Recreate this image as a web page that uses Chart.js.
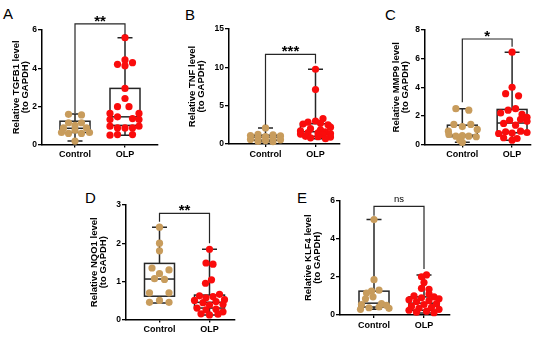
<!DOCTYPE html>
<html><head><meta charset="utf-8">
<script src="https://cdn.jsdelivr.net/npm/chart.js@4"></script>
<style>
html,body{margin:0;padding:0;background:#fff;width:550px;height:339px;overflow:hidden;position:relative;font-family:"Liberation Sans",Arial,sans-serif}
canvas{position:absolute}
.lbl{position:absolute;font-size:15px;line-height:15px;color:#000;font-family:"Liberation Sans",Arial,sans-serif}
</style></head><body>
<div class="lbl" style="left:3px;top:6px">A</div>
<div class="lbl" style="left:185px;top:7px">B</div>
<div class="lbl" style="left:385px;top:7px">C</div>
<div class="lbl" style="left:85px;top:190px">D</div>
<div class="lbl" style="left:297px;top:190px">E</div>
<canvas id="cA" width="165" height="170" style="left:0px;top:0px"></canvas>
<canvas id="cB" width="175" height="170" style="left:180px;top:0px"></canvas>
<canvas id="cC" width="175" height="170" style="left:375px;top:0px"></canvas>
<canvas id="cD" width="175" height="169" style="left:75px;top:170px"></canvas>
<canvas id="cE" width="175" height="169" style="left:285px;top:170px"></canvas>
<script>
const groups = ['Control', 'OLP'];

// Panel A: TGFB1
const tgfb1Control = [1.58, 1.55, 1.14, 1.14, 1.01, 0.87, 0.87, 0.75, 0.63, 0.58, 0.58, 0.63, 0.18];
const tgfb1ControlJitter = [-0.13, 0.13, -0.13, 0.13, 0, -0.23, 0.23, 0, -0.27, -0.13, 0.13, 0.29, 0];
const tgfb1OLP = [5.6, 4.43, 4.29, 4.2, 4.13, 2.94, 2.41, 1.98, 1.98, 1.63, 1.63, 1.45, 1.36, 1.31, 1.31, 0.96, 0.96, 0.87, 0.87, 0.87, 0.52, 0.52, 0.49];
const tgfb1OLPJitter = [0, 0, 0.15, -0.15, 0, 0, 0, -0.15, 0.08, -0.3, 0.28, -0.15, 0.15, -0.3, 0.28, -0.3, 0.28, -0.15, 0, 0.15, -0.15, 0.15, -0.3];
const tgfb1Box = [[0.18, 0.63, 0.85, 1.22, 1.6], [0.49, 1.0, 1.45, 2.94, 5.6]];
const tgfb1Sig = [6.32, 1.65, 5.75, '**'];

// Panel B: TNF
const tnfControl = [2.1, 1.25, 1.2, 1.1, 1.05, 0.95, 0.8, 0.75, 0.6, 0.55, 0.45, 0.35, 0.3];
const tnfControlJitter = [0, -0.15, 0.15, -0.3, 0.3, 0, -0.15, 0.15, -0.3, 0.3, 0, -0.15, 0.15];
const tnfOLP = [9.75, 7.1, 3.3, 3.0, 2.85, 2.7, 2.6, 2.5, 2.2, 2.0, 1.85, 1.7, 1.6, 1.5, 1.45, 1.35, 1.3, 1.2, 1.0, 0.95, 0.9, 0.8, 0.7];
const tnfOLPJitter = [0, 0, 0.15, 0, -0.15, 0.1, -0.25, 0.25, 0.3, -0.1, 0.1, -0.3, 0.2, -0.15, 0.05, 0.3, -0.3, 0.15, -0.2, 0.05, 0.3, -0.1, 0.2];
const tnfBox = [[0.3, 0.5, 0.9, 1.15, 2.1], [0.7, 1.0, 1.6, 2.65, 9.75]];
const tnfSig = [11.7, 2.5, 10.5, '***'];

// Panel C: MMP9
const mmp9Control = [2.5, 2.4, 1.4, 1.4, 1.25, 1.05, 0.93, 0.7, 0.62, 0.58, 0.58, 0.54, 0.3, 0.15];
const mmp9ControlJitter = [-0.13, 0.13, -0.17, 0.17, 0, 0.3, -0.28, -0.27, 0, -0.13, 0.13, 0.28, -0.05, 0];
const mmp9OLP = [6.45, 4.0, 3.55, 3.4, 2.5, 2.4, 2.2, 2.1, 1.9, 1.75, 1.7, 1.62, 1.47, 1.35, 0.93, 0.89, 0.84, 0.8, 0.77, 0.47, 0.42, 0.3];
const mmp9OLPJitter = [0, 0, -0.13, 0.13, 0.07, -0.08, -0.23, 0.2, 0.3, 0.17, -0.05, 0.3, -0.17, 0.07, 0.17, -0.13, 0.3, 0, -0.27, -0.17, 0.1, 0];
const mmp9Box = [[0.15, 0.55, 0.65, 1.35, 2.5], [0.3, 0.82, 1.5, 2.45, 6.45]];
const mmp9Sig = [7.37, 2.95, 6.83, '*'];

// Panel D: NQO1
const nqo1Control = [2.42, 2.0, 1.8, 1.35, 1.3, 1.2, 1.07, 1.05, 0.7, 0.7, 0.5, 0.45, 0.45];
const nqo1ControlJitter = [0, 0, 0, -0.15, 0.19, 0, -0.1, 0.1, -0.2, 0.19, 0, -0.2, 0.19];
const nqo1OLP = [1.84, 1.48, 1.45, 1.04, 0.95, 0.66, 0.62, 0.6, 0.57, 0.52, 0.5, 0.47, 0.44, 0.4, 0.38, 0.3, 0.27, 0.25, 0.2, 0.15, 0.14, 0.12];
const nqo1OLPJitter = [0, -0.07, 0.07, 0.04, -0.08, 0.2, -0.2, 0.07, -0.07, 0.3, -0.3, 0.13, -0.13, 0.27, 0, -0.25, 0.13, -0.07, 0.27, -0.17, 0.17, 0];
const nqo1Box = [[0.43, 0.61, 1.06, 1.47, 2.42], [0.12, 0.3, 0.45, 0.64, 1.84]];
const nqo1Sig = [2.78, 2.56, 2.0, '**'];

// Panel E: KLF4
const klf4Control = [5.0, 1.85, 1.3, 1.25, 1.15, 0.95, 0.85, 0.6, 0.55, 0.5, 0.42, 0.38, 0.3, 0.35];
const klf4ControlJitter = [0, 0, 0.1, -0.05, -0.15, -0.02, -0.17, 0.15, -0.25, 0.25, 0.1, -0.1, -0.27, 0.3];
const klf4OLP = [2.1, 2.0, 1.7, 1.4, 1.35, 1.1, 1.0, 0.95, 0.9, 0.85, 0.8, 0.75, 0.7, 0.6, 0.55, 0.45, 0.4, 0.35, 0.3, 0.25, 0.2, 0.15, 0.12];
const klf4OLPJitter = [0.05, -0.05, 0, -0.05, 0.1, 0.1, -0.2, 0.2, -0.05, 0.3, -0.3, 0.1, -0.15, 0.25, 0, -0.25, 0.15, -0.1, 0.3, -0.3, 0.05, -0.15, 0.2];
const klf4Box = [[0.3, 0.42, 0.62, 1.25, 5.0], [0.1, 0.25, 0.62, 0.95, 2.1]];
const klf4Sig = [5.69, 5.2, 2.41, 'ns'];

const TAN = 'rgb(200,156,92)';
const RED = 'rgb(250,12,12)';
const LINE = '#262626';
const FONT = '"Liberation Sans", Arial, sans-serif';

const panels = [
  {id:'cA', left:0, top:0, w:165, h:170, axisX:42, axisEnd:158, yTopPx:30, yBotPx:144.5, titleX:16, xMin:-0.66, xMax:1.66, yMax:6, step:2,
   title:['Relative TGFB1 level','(to GAPDH)'], ctrl:tgfb1Control, ctrlJ:tgfb1ControlJitter, olp:tgfb1OLP, olpJ:tgfb1OLPJitter, box:tgfb1Box, sig:tgfb1Sig},
  {id:'cB', left:180, top:0, w:175, h:170, axisX:229, axisEnd:340, yTopPx:29, yBotPx:144, titleX:192, xMin:-0.73, xMax:1.49, yMax:15, step:5,
   title:['Relative TNF level','(to GAPDH)'], ctrl:tnfControl, ctrlJ:tnfControlJitter, olp:tnfOLP, olpJ:tnfOLPJitter, box:tnfBox, sig:tnfSig},
  {id:'cC', left:375, top:0, w:175, h:170, axisX:425, axisEnd:531, yTopPx:30, yBotPx:144.5, titleX:396, xMin:-0.75, xMax:1.38, yMax:8, step:2,
   title:['Relative MMP9 level','(to GAPDH)'], ctrl:mmp9Control, ctrlJ:mmp9ControlJitter, olp:mmp9OLP, olpJ:mmp9OLPJitter, box:mmp9Box, sig:mmp9Sig},
  {id:'cD', left:75, top:170, w:175, h:169, axisX:126, axisEnd:235, yTopPx:205, yBotPx:319.5, titleX:94, xMin:-0.67, xMax:1.51, yMax:3, step:1,
   title:['Relative NQO1 level','(to GAPDH)'], ctrl:nqo1Control, ctrlJ:nqo1ControlJitter, olp:nqo1OLP, olpJ:nqo1OLPJitter, box:nqo1Box, sig:nqo1Sig},
  {id:'cE', left:285, top:170, w:175, h:169, axisX:340, axisEnd:450, yTopPx:200.5, yBotPx:315, titleX:308, xMin:-0.68, xMax:1.52, yMax:6, step:2,
   title:['Relative KLF4 level','(to GAPDH)'], ctrl:klf4Control, ctrlJ:klf4ControlJitter, olp:klf4OLP, olpJ:klf4OLPJitter, box:klf4Box, sig:klf4Sig}
];

const XH = 18;
const TITLE_SIZE = 9.5, TITLE_LH = 1.0;

function makeBoxPlugin(p) {
  return {
    id: 'boxes_' + p.id,
    beforeDatasetsDraw(chart) {
      const {ctx, scales: {x, y}} = chart;
      ctx.save();
      ctx.strokeStyle = LINE;
      ctx.lineWidth = 1.5;
      p.box.forEach((s, gi) => {
        const [mn, q1, md, q3, mx] = s;
        const cx = x.getPixelForValue(gi);
        const l = x.getPixelForValue(gi - 0.3), r = x.getPixelForValue(gi + 0.3);
        const cl = x.getPixelForValue(gi - 0.15), cr = x.getPixelForValue(gi + 0.15);
        const pmn = y.getPixelForValue(mn), pq1 = y.getPixelForValue(q1), pmd = y.getPixelForValue(md),
              pq3 = y.getPixelForValue(q3), pmx = y.getPixelForValue(mx);
        ctx.beginPath();
        ctx.moveTo(cx, pmx); ctx.lineTo(cx, pq3);
        ctx.moveTo(cx, pq1); ctx.lineTo(cx, pmn);
        ctx.moveTo(cl, pmx); ctx.lineTo(cr, pmx);
        ctx.moveTo(cl, pmn); ctx.lineTo(cr, pmn);
        ctx.stroke();
        ctx.fillStyle = '#fff';
        ctx.fillRect(l, pq3, r - l, pq1 - pq3);
        ctx.strokeRect(l, pq3, r - l, pq1 - pq3);
        ctx.beginPath();
        ctx.moveTo(l, pmd); ctx.lineTo(r, pmd);
        ctx.stroke();
      });
      ctx.restore();
    },
    afterDraw(chart) {
      const {ctx, scales: {x, y}} = chart;
      const [lvl, lb, rb, txt] = p.sig;
      const x0 = x.getPixelForValue(0), x1 = x.getPixelForValue(1);
      const py = y.getPixelForValue(lvl);
      ctx.save();
      ctx.strokeStyle = LINE;
      ctx.lineWidth = 1.2;
      ctx.beginPath();
      ctx.moveTo(x0, y.getPixelForValue(lb));
      ctx.lineTo(x0, py);
      ctx.lineTo(x1, py);
      ctx.lineTo(x1, y.getPixelForValue(rb));
      ctx.stroke();
      ctx.fillStyle = '#000';
      ctx.textAlign = 'center';
      ctx.textBaseline = 'alphabetic';
      if (txt === 'ns') {
        ctx.font = '9.5px ' + FONT;
        ctx.fillText(txt, (x0 + x1) / 2, py - 4.5);
      } else {
        ctx.font = 'bold 15px ' + FONT;
        ctx.fillText(txt, (x0 + x1) / 2, py + 2);
      }
      ctx.restore();
    }
  };
}

panels.forEach(p => {
  const yW = p.axisX - p.left;
  const padTop = p.yTopPx - p.top;
  const padBottom = p.h - XH - (p.yBotPx - p.top);
  const padRight = p.w - (p.axisEnd - p.left);
  const titlePad = p.titleX - p.left - TITLE_SIZE * TITLE_LH / 2;
  new Chart(document.getElementById(p.id), {
    type: 'scatter',
    data: {
      datasets: [
        {data: p.ctrl.map((v, i) => ({x: 0 + p.ctrlJ[i], y: v})), backgroundColor: TAN, borderWidth: 0, pointRadius: 3.6, clip: false},
        {data: p.olp.map((v, i) => ({x: 1 + p.olpJ[i], y: v})), backgroundColor: RED, borderWidth: 0, pointRadius: 3.6, clip: false}
      ]
    },
    options: {
      responsive: false,
      animation: false,
      devicePixelRatio: 1,
      layout: {padding: {left: 0, top: padTop, right: padRight, bottom: padBottom}},
      plugins: {legend: {display: false}, tooltip: {enabled: false}},
      scales: {
        x: {
          type: 'linear', min: p.xMin, max: p.xMax,
          afterBuildTicks: s => { s.ticks = [{value: 0}, {value: 1}]; },
          afterFit: s => { s.height = XH; },
          ticks: {callback: v => groups[v], color: '#000', padding: 2, autoSkip: false, maxRotation: 0,
                  font: {family: FONT, size: 9, weight: 'bold'}},
          grid: {display: true, drawOnChartArea: false, drawTicks: true, tickLength: 3, color: '#000', lineWidth: 1.3},
          border: {display: true, color: '#000', width: 1.5}
        },
        y: {
          min: 0, max: p.yMax,
          afterFit: s => { s.width = yW; },
          ticks: {stepSize: p.step, color: '#000', padding: 1, font: {family: FONT, size: 8.5, weight: 'bold'}},
          grid: {display: true, drawOnChartArea: false, drawTicks: true, tickLength: 4, color: '#000', lineWidth: 1.3},
          border: {display: true, color: '#000', width: 1.5},
          title: {display: true, text: p.title, color: '#000', padding: {top: titlePad, bottom: 0},
                  font: {family: FONT, size: TITLE_SIZE, weight: 'bold', lineHeight: TITLE_LH}}
        }
      }
    },
    plugins: [makeBoxPlugin(p)]
  });
});
</script>
</body></html>
